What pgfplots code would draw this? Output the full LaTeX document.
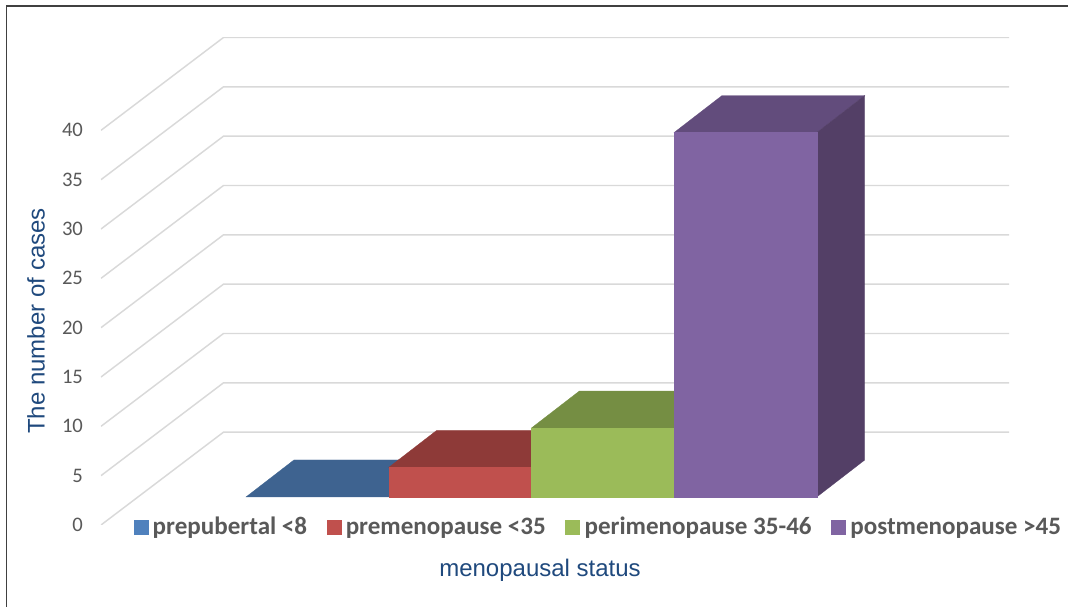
\documentclass[border=0pt]{standalone}
\usepackage{pgfplots}
\pgfplotsset{compat=1.18}
\usepackage{fontspec}
\setmainfont{Carlito}
\newfontfamily\arialfamily{Liberation Sans}
\definecolor{gridgray}{HTML}{D9D9D9}
\definecolor{ticktext}{HTML}{595959}
\definecolor{titleblue}{HTML}{1F497D}
\definecolor{blueFront}{HTML}{4F81BD}
\definecolor{blueTop}{HTML}{3E6390}
\definecolor{redFront}{HTML}{C0504D}
\definecolor{redTop}{HTML}{8E3A38}
\definecolor{greenFront}{HTML}{9BBB59}
\definecolor{greenTop}{HTML}{758E43}
\definecolor{purpleFront}{HTML}{8064A2}
\definecolor{purpleTop}{HTML}{624C7C}
\definecolor{purpleSide}{HTML}{533F66}
\pgfplotsset{
  frame/.style={
    scale only axis, width=681pt, height=365.625pt,
    at={(75.75pt,61.5pt)}, anchor=south west,
    axis line style={draw=none}, major tick style={draw=none}, xtick=\empty,
  },
}
\begin{document}
\begin{tikzpicture}
\path[use as bounding box] (0,0) rectangle (801pt,455.25pt);
\draw[color=black!75, line width=1.3pt] (4.9pt,0) -- (4.9pt,450.75pt) -- (801pt,450.75pt);

% Walls and value axis
\begin{axis}[frame, xmin=101, xmax=1009, ymin=0, ymax=49.41,
  ytick={0,5,...,40},
  /pgf/number format/assume math mode=true,
  yticklabel style={font=\fontsize{15.5}{18}\selectfont, text=ticktext, xshift=-10pt},
  ylabel={The number of cases},
  every axis y label/.style={at={(rel axis cs:-0.0716,0.4185)}, rotate=90, anchor=center,
    font=\arialfamily\fontsize{18}{22}\selectfont, text=titleblue},
  gridline/.style={gridgray, line width=1.1pt},
]
\addplot[gridline] coordinates {(101,0)(223.5,9.41)(1009,9.41)};
\addplot[gridline] coordinates {(101,5)(223.5,14.41)(1009,14.41)};
\addplot[gridline] coordinates {(101,10)(223.5,19.41)(1009,19.41)};
\addplot[gridline] coordinates {(101,15)(223.5,24.41)(1009,24.41)};
\addplot[gridline] coordinates {(101,20)(223.5,29.41)(1009,29.41)};
\addplot[gridline] coordinates {(101,25)(223.5,34.41)(1009,34.41)};
\addplot[gridline] coordinates {(101,30)(223.5,39.41)(1009,39.41)};
\addplot[gridline] coordinates {(101,35)(223.5,44.41)(1009,44.41)};
\addplot[gridline] coordinates {(101,40)(223.5,49.41)(1009,49.41)};
\end{axis}

% Bars: values 0, 3, 7, 37; depth offset is (0.336, 3.756) in data units
\begin{axis}[frame, xmin=-1.5158, xmax=4.847, ymin=-2.843, ymax=46.65, ytick=\empty,
  xlabel={menopausal status},
  every axis x label/.style={at={(rel axis cs:0.4835,-0.0923)}, anchor=center,
    font=\arialfamily\fontsize{18}{22}\selectfont, text=titleblue},
  legend columns=4,
  legend image code/.code={\fill[#1] (0pt,-5.25pt) rectangle (10.5pt,5.25pt);},
  legend style={at={(rel axis cs:0.0358,-0.0041)}, anchor=west, draw=none, fill=none,
    inner sep=0pt, outer sep=0pt,
    font=\bfseries\fontsize{18.8}{22}\selectfont, text=ticktext,
    /tikz/every odd column/.append style={column sep=1.5pt},
    /tikz/every even column/.append style={column sep=12.6pt}},
]
\addlegendimage{blueFront}\addlegendentry{prepubertal <8}
\addlegendimage{redFront}\addlegendentry{premenopause <35}
\addlegendimage{greenFront}\addlegendentry{perimenopause 35-46}
\addlegendimage{purpleFront}\addlegendentry{postmenopause >45}

% prepubertal <8
\addplot[fill=blueTop, draw=blueTop, line width=.2pt] coordinates {(-0.5,0)(0.5,0)(0.836,3.756)(-0.164,3.756)} -- cycle;
% premenopause <35
\addplot[fill=redTop, draw=redTop, line width=.2pt] coordinates {(0.5,3)(1.5,3)(1.836,6.756)(0.836,6.756)} -- cycle;
\addplot[fill=redFront, draw=redFront, line width=.2pt] coordinates {(0.5,0)(1.5,0)(1.5,3)(0.5,3)} -- cycle;
% perimenopause 35-46
\addplot[fill=greenTop, draw=greenTop, line width=.2pt] coordinates {(1.5,7)(2.5,7)(2.836,10.756)(1.836,10.756)} -- cycle;
\addplot[fill=greenFront, draw=greenFront, line width=.2pt] coordinates {(1.5,0)(2.5,0)(2.5,7)(1.5,7)} -- cycle;
% postmenopause >45
\addplot[fill=purpleTop, draw=purpleTop, line width=.2pt] coordinates {(2.5,37)(3.5,37)(3.836,40.756)(2.836,40.756)} -- cycle;
\addplot[fill=purpleSide, draw=purpleSide, line width=.2pt] coordinates {(3.5,0)(3.836,3.756)(3.836,40.756)(3.5,37)} -- cycle;
\addplot[fill=purpleFront, draw=purpleFront, line width=.2pt] coordinates {(2.5,0)(3.5,0)(3.5,37)(2.5,37)} -- cycle;
\end{axis}
\end{tikzpicture}
\end{document}
